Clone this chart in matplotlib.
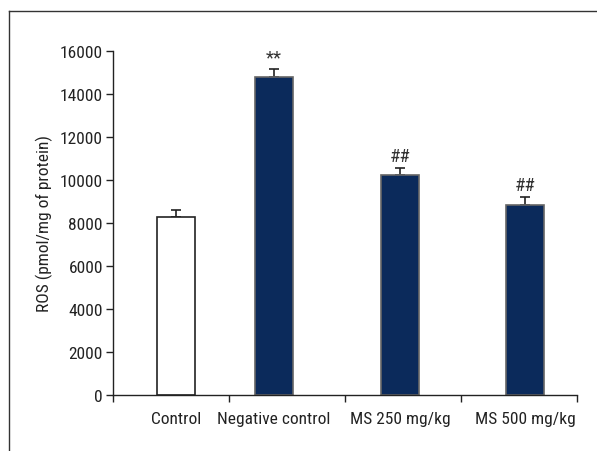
import matplotlib.pyplot as plt
from matplotlib import font_manager
from matplotlib.lines import Line2D

# narrow font if one is installed
installed = {f.name for f in font_manager.fontManager.ttflist}
narrow = [n for n in ['Liberation Sans Narrow', 'Roboto Condensed', 'Open Sans Condensed',
                      'Noto Sans Condensed'] if n in installed]
plt.rcParams['font.family'] = narrow + ['DejaVu Sans']
plt.rcParams['font.stretch'] = 'condensed'
fs = 12.5 if narrow else 10.5

groups = ['Control', 'Negative control', 'MS 250 mg/kg', 'MS 500 mg/kg']
ros = [8300, 14800, 10250, 8850]
sem = [300, 360, 310, 350]
marks = ['', '**', '##', '##']

xpos = [0.542, 1.388, 2.472, 3.548]
colors = ['white', '#0b2a5b', '#0b2a5b', '#0b2a5b']
edges = ['#222222', '#666666', '#666666', '#666666']

fig = plt.figure(figsize=(5.97, 4.52), dpi=100)
ax = fig.add_axes([0.1888, 0.1246, 0.7785, 0.7597])

ax.bar(xpos, ros, width=0.324, color=colors, edgecolor=edges, linewidth=1.2, zorder=2)
ax.errorbar(xpos, ros, yerr=[[0] * 4, sem], fmt='none', ecolor='#222222',
            elinewidth=1.2, capsize=3.5, capthick=1.2, zorder=1)
for x, v, e, m in zip(xpos, ros, sem, marks):
    if m:
        ax.text(x, v + e + 150, m, ha='center', va='bottom', fontsize=fs + 1, color='#333333')

ax.set_xlim(0, 4)
ax.set_ylim(0, 16000)
ax.set_yticks(range(0, 16001, 2000))
ax.set_xticks([0, 1, 2, 3, 4])
ax.set_xticklabels([])
ax.set_xticks(xpos, minor=True)
ax.set_xticklabels(groups, minor=True)
ax.tick_params(axis='x', which='minor', length=0, pad=12, labelsize=fs, labelcolor='#222222')
ax.tick_params(axis='both', which='major', length=5, width=1, color='#222222',
               labelsize=fs, labelcolor='#222222', direction='out', pad=2)
for s in ['top', 'right']:
    ax.spines[s].set_visible(False)
for s in ['left', 'bottom']:
    ax.spines[s].set_color('#222222')
    ax.spines[s].set_linewidth(1)
ax.set_ylabel('ROS (pmol/mg of protein)', fontsize=fs, color='#222222', labelpad=5)

# outer frame lines
fig.add_artist(Line2D([8.5 / 597, 8.5 / 597], [0, 1 - 11.5 / 452], transform=fig.transFigure,
                      color='#333333', linewidth=1))
fig.add_artist(Line2D([8.5 / 597, 1], [1 - 11.5 / 452, 1 - 11.5 / 452], transform=fig.transFigure,
                      color='#333333', linewidth=1))

fig.savefig('out.png', dpi=100)
